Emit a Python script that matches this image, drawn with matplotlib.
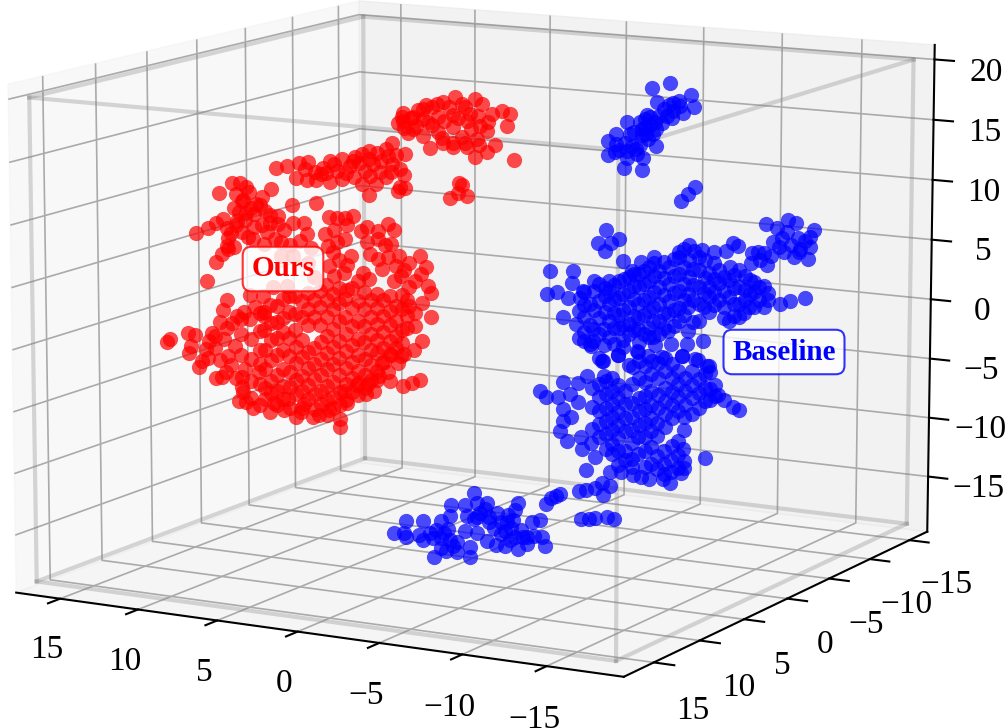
import numpy as np
import matplotlib
matplotlib.use('Agg')
import matplotlib.pyplot as plt
from matplotlib.transforms import ScaledTranslation

plt.rcParams['font.family'] = ['Liberation Serif', 'DejaVu Serif']
plt.rcParams['font.size'] = 24
plt.rcParams['grid.color'] = '#aaaaaa'
plt.rcParams['grid.linewidth'] = 1.2

# depth of each group of points (not readable from the picture, estimated)
red_depth = 6.0
blue_depth = -8.0
floor_depth = 2.0

# (x, z) pairs
red_top_left = [(11.7,11.3),(11.2,11.4),(12.6,10.4),(10.8,11.05),(10.6,10.7),(9.2,11.1),(9.8,10.4),(11.5,10.4),
    (11.1,9.9),(11.6,9.3),(11.3,8.95),(10.8,9.0),(9.9,9.7),(9.6,9.3),(10.3,8.95),(9.3,9.0),(8.8,9.0),(14.1,6.9),
    (13.3,7.45),(12.8,7.9),(12.3,8.3),(12.1,7.6),(12.0,6.8),(12.1,6.1),(11.6,6.1),(12.4,5.4),(12.8,4.7),(13.4,3.0),
    (10.7,7.0),(10.3,7.9),(9.8,8.1),(9.3,8.3),(9.0,7.1),(8.4,7.9),(7.8,8.5),(7.1,8.6),(6.9,7.7),(8.0,6.7),(6.7,6.6),
    (11.0,10.0),(10.2,9.8),(10.9,8.4),(10.5,9.4),(11.5,7.9),(11.8,7.2),(11.1,7.4),(10.4,6.9),(9.5,7.6),(8.8,8.3),
    (9.7,6.6),(8.6,6.9),(7.4,7.1),(12.0,5.9),(11.4,8.2)]
red_rim = [(5.8,7.9),(5.5,9.3),(5.0,9.3),(4.5,9.35),(4.0,9.55),(4.4,8.8),(3.5,8.4),(4.5,7.6),(3.1,7.6),(2.4,8.55),
    (1.8,9.2),(1.4,8.8),(2.4,7.9),(1.6,7.6),(2.9,6.6),(2.4,6.25),(1.8,6.5),(1.3,5.9),(0.5,6.2),(-0.2,6.9),(-0.6,6.0),
    (1.0,5.1),(0.1,4.8),(-0.7,4.5),(-0.9,4.0),(-0.3,3.1),(0.5,2.7),(0.1,2.2),(-0.9,2.0),(0.1,1.15),(-0.3,0.0),
    (0.2,-0.8),(1.0,-1.4),(1.6,-1.4),(2.2,-2.1),(2.4,-3.2),(3.1,-4.0),(3.8,-4.2),(0.85,-3.8),(0.3,-3.5),(-0.2,-3.2),
    (5.2,8.3),(3.1,8.8),(2.0,7.5),(1.1,6.7),(0.8,5.6),(-0.3,5.4),(0.5,4.3),(1.4,4.6),(5.0,7.3),(5.3,6.5),
    (1.8,-2.8),(1.2,-2.0),(2.5,-3.6),(0.8,-1.2),(3.2,-4.8),(2.7,-4.5),(1.7,-3.5)]
red_mid = [(10.6,2.3),(9.8,2.25),(8.6,5.7),(7.8,5.8),(5.6,6.9),(4.9,5.9),(4.1,6.3),(5.5,5.3),(5.2,4.5),(3.7,4.3),
    (3.0,4.55),(8.2,3.3),(9.1,3.15),(6.9,5.35),(6.5,4.3),(4.4,3.5),(4.4,5.5),(4.6,4.9),(3.4,5.0),(2.2,5.5)]
red_left = [(15.9,-2.1),(16.1,-2.4),(14.7,-1.4),(14.2,-1.5),(14.5,-2.5),(14.6,-3.1),(13.1,-1.2),(13.3,-1.9),(14.0,-4.2),
    (13.4,-3.3),(13.8,-3.6),(12.9,-4.9),(12.2,-4.3),(12.1,1.65),(12.4,0.8),(11.0,0.85),(10.3,1.35),(9.7,0.65),
    (11.8,-0.2),(12.1,-0.65),(12.3,-1.6),(11.6,-2.05),(12.1,-2.95),(11.0,-3.9),(10.1,-4.0),(11.1,-5.8),(11.4,-6.6),
    (10.5,-7.05),(10.0,-6.7),(9.1,-6.45),(8.2,-5.95),(7.7,-7.35),(6.6,-7.2),(7.2,-6.2),(5.6,-6.5),(4.9,-7.1),
    (4.9,-7.8),(4.4,-5.7),(4.6,-4.75),(13.5,-2.6),(12.9,-2.4),(12.6,-3.4),(12.9,-1.4),(11.5,0.4),(12.6,-0.2),
    (11.9,-3.7),(11.6,-4.7),(12.5,-4.8),(10.9,-6.6),(9.4,-7.2),(8.5,-6.9),(7.4,-6.9),(6.2,-7.0)]
# core of the red mass, x: list of z
red_core = {10.0: [0.9,-0.6,-2.2,-3.3,-5.0], 9.3: [1.6,0.1,-1.3,-2.9,-4.6,-5.6], 8.5: [2.2,0.7,-0.5,-2.0,-3.5,-4.9,-6.0],
    7.7: [2.6,1.1,-0.2,-1.6,-2.9,-4.3,-5.5], 6.9: [2.9,1.6,0.3,-1.9,-3.2,-4.6,-5.8],
    6.1: [3.2,1.9,0.4,-1.0,-2.4,-3.7,-5.0,-6.1], 5.3: [3.1,1.8,0.2,-1.3,-2.7,-4.1,-5.4,-6.3],
    4.5: [2.8,1.3,-0.1,-1.5,-2.9,-4.2,-5.5], 3.7: [2.7,1.1,-0.4,-1.7,-3.0,-4.0,-5.0],
    2.9: [2.9,1.5,0.1,-1.2,-2.4,-3.6], 2.1: [3.0,1.7,0.4,-0.9,-2.0], 1.3: [2.6,1.4,0.2,-0.8], 0.6: [3.2,1.9,0.9],
    11.2: [0.2,-1.0,-2.8,-4.6,-5.4], 10.6: [0.3,-1.4,-3.0,-4.8,-6.2], 9.7: [1.0,-0.5,-2.1,-3.7,-5.3,-6.2],
    8.9: [1.6,0.3,-1.0,-2.4,-4.1,-5.4,-6.6], 8.1: [2.5,1.2,-0.9,-2.4,-3.7,-5.0,-6.7], 7.3: [2.2,0.9,-1.0,-2.4,-3.9,-5.2,-6.6],
    6.5: [2.4,1.0,-1.5,-2.8,-4.1,-5.3,-6.5], 5.7: [3.7,2.5,1.1,-0.4,-1.8,-3.1,-4.5,-5.7,-6.9],
    4.9: [3.6,2.4,0.9,-0.7,-2.1,-3.5,-4.9,-6.0], 4.1: [3.7,2.1,0.6,-0.9,-2.3,-3.6,-4.8], 3.3: [3.5,2.1,0.7,-0.6,-2.0,-3.3,-4.3],
    2.5: [3.4,2.3,1.0,-0.3,-1.4,-2.8], 1.7: [3.4,2.2,1.0,-0.3,-1.3], 0.9: [3.6,2.4,0.7,-0.3]}
red_band = [(8.85,12.9),(8.2,13.1),(7.4,13.45),(6.8,13.6),(6.4,12.85),(5.9,13.25),(5.45,13.8),(4.7,14.05),(4.2,13.55),
    (5.0,13.05),(3.85,14.35),(3.4,14.65),(2.95,14.95),(2.45,14.8),(1.9,15.25),(1.5,15.75),(1.8,14.65),(2.7,13.95),
    (3.2,13.3),(3.9,12.7),(4.7,12.45),(5.45,12.15),(6.3,12.2),(6.9,12.15),(7.6,12.2),(3.4,12.2),(2.55,12.35),(1.9,13.0),
    (1.5,14.1),(1.0,13.75),(0.8,13.3),(1.0,12.3),(0.7,12.2),(1.15,11.95),(3.0,11.35),(6.35,10.35),(7.9,9.95),
    (7.0,13.0),(6.0,12.7),(5.2,13.6),(4.4,13.0),(3.6,13.9),(3.0,14.3),(2.2,14.2),(2.9,12.9),(2.3,13.3),(1.6,13.4),(4.0,14.0),
    (5.7,12.8),(1.3,14.8),(0.7,15.0)]
red_arc = [(0.8,17.6),(0.35,17.9),(-0.1,18.55),(-0.6,19.0),(-1.0,18.9),(-1.65,19.4),(-2.4,19.85),(-2.85,19.35),(-3.65,19.85),
    (-3.3,18.6),(-4.05,19.5),(-4.65,18.75),(-3.95,17.7),(-3.15,18.0),(-2.25,18.45),(-1.35,18.15),(-0.75,17.65),(0.0,17.3),
    (0.8,17.05),(1.15,17.4),(0.5,16.65),(-0.4,16.55),(-1.35,16.95),(-2.25,17.45),(-2.85,16.75),(-3.75,16.7),(-4.35,17.35),
    (-4.85,16.35),(-5.3,19.1),(-5.75,18.9),(-5.6,17.95),(-6.0,15.3),(-4.35,15.7),(-3.15,15.95),(-2.25,15.85),(-1.65,16.15),
    (-0.85,15.65),(-2.85,12.9),(-2.55,12.2),(-3.15,12.05),(-2.1,11.75),(-2.65,13.05),(-3.65,15.2),
    (0.2,18.0),(0.2,17.0),(0.9,17.9),(-0.4,17.9),(-1.0,17.5),(-1.7,17.9),(-2.6,18.2),(-3.4,17.4),(-3.8,18.5),(-3.0,19.1),
    (-2.0,19.0),(-1.3,19.2),(-0.4,18.7),(-1.6,16.5),(-3.0,16.3),(-3.9,16.2),(-2.3,16.2),(-4.4,18.1),(0.8,18.2)]

blue_top = [(-6.7,18.2),(-7.85,18.7),(-7.05,17.05),(-8.05,17.1),(-8.4,17.3),(-9.15,17.85),(-9.35,16.9),(-8.7,16.35),
    (-7.65,15.95),(-6.3,15.6),(-5.15,15.15),(-6.6,15.1),(-6.1,14.75),(-7.0,14.85),(-5.35,14.2),(-4.45,14.1),(-3.95,13.45),
    (-5.05,13.45),(-4.7,12.85),(-3.95,12.3),(-5.15,12.2),(-6.2,12.35),(-5.0,11.35),(-6.15,11.3),(-5.75,13.0),(-7.0,13.45),
    (-6.5,13.95),(-6.15,14.2),(-7.35,15.35),(-8.05,16.4),(-6.6,15.8),(-6.9,15.4),(-6.4,14.35),
    (-6.3,14.9),(-6.8,14.4),(-7.2,15.9),(-7.5,16.5),(-8.0,15.8),(-8.5,16.9),(-6.0,15.3),(-5.6,14.4),(-5.5,13.2),(-6.0,13.4),
    (-5.2,12.8),(-4.5,13.3),(-4.4,12.6),(-6.4,15.9),(-5.8,12.6),(-7.8,16.9)]
blue_trio = [(-8.6,9.1),(-9.0,9.7),(-9.45,10.3)]
blue_band_edge = [(-3.9,6.05),(-3.35,4.95),(-4.7,5.4),(-4.2,5.05),(-3.8,4.3),(-0.3,2.2),(-0.1,0.2),(-0.75,0.5),(-1.8,2.35),
    (-1.7,1.35),(-1.15,-1.55),(-2.0,-2.1),(-1.45,0.05),(-2.4,0.75),(-3.15,1.7),(-4.1,1.85),(-4.95,3.65),(-5.55,2.9),
    (-6.1,3.65),(-6.9,4.2),(-8.5,4.85),(-9.1,5.5),(-9.95,5.2),(-10.7,5.15),(-11.4,5.25),(-11.85,6.0),(-12.15,5.8),
    (-14.8,1.4),(-15.4,1.7),(-16.35,2.1),(-2.5,-3.4),(-2.95,-3.8),(-3.7,-4.95),(-4.7,-4.25),(-5.95,-3.9),(-6.6,-4.1),
    (-7.45,-4.1),(-8.7,-3.8),(-9.55,-3.95),(-10.3,-4.4),(-5.35,-5.0),
    (-6.0,-3.0),(-7.0,-3.1),(-8.0,-2.9),(-9.0,-2.8),(-10.0,-2.4),(-5.0,-3.6)]
blue_right = [(-13.85,7.85),(-14.55,7.6),(-15.2,8.3),(-15.7,8.1),(-15.2,7.35),(-15.85,6.9),(-16.8,7.7),(-16.6,7.1),(-16.6,6.3),
    (-16.45,5.3),(-15.6,5.3),(-15.0,5.65),(-14.35,6.4),(-14.7,6.0),(-13.75,5.45),(-13.5,4.85),(-13.0,5.35),(-13.0,4.5),
    (-13.95,4.45),(-16.0,6.05),(-15.4,6.3),(-14.9,6.8),(-15.9,5.8),(-16.3,6.7),(-14.2,5.2),(-13.4,5.5)]
blue_band_core = {-2.2: [0.16,-0.96,-3.2], -2.85: [-0.3,-2.0,-3.66], -3.45: [1.46,0.06,-1.34,-2.74,-4.7], -4.1: [1.0,-0.1,-1.5,-2.9],
    -4.7: [1.9,0.5,-0.9,-2.0], -5.35: [2.3,1.2,-0.2,-1.6,-2.45], -5.95: [2.65,1.55,0.15,-1.0,-1.95],
    -6.6: [3.3,2.2,0.8,-0.3,-1.75,-2.55], -7.25: [3.1,1.75,0.35,-1.05,-2.2], -7.85: [3.5,2.1,0.7,-0.45,-1.85],
    -8.5: [4.4,3.0,1.6,0.2,-0.9], -9.1: [4.25,2.85,1.45,0.3,-1.65], -9.75: [4.6,3.5,2.1,0.7,-0.7], -10.4: [3.3,2.2,1.35,0.1],
    -11.0: [3.65,2.55,1.15], -11.65: [4.0,2.9,1.5,-0.45], -12.25: [3.85,2.45,1.05,-0.05], -12.9: [3.1,1.95,0.85],
    -13.5: [2.6,1.5], -14.05: [2.15,1.55],
    -2.5: [0.7,-0.4,-1.4,-2.7], -3.1: [0.9,-0.7,-2.3,-3.3], -3.8: [1.2,0.5,-0.8,-2.2,-3.6], -4.4: [1.5,0.4,-0.8,-2.1,-3.4],
    -5.0: [2.1,0.9,-0.5,-1.7,-3.0], -5.65: [2.6,1.6,0.5,-0.9,-2.1], -6.3: [3.0,1.9,0.5,-0.7,-2.3],
    -6.9: [3.7,2.6,1.3,0.0,-1.1,-2.5], -7.55: [3.9,2.5,1.1,-0.4,-1.6], -8.2: [4.2,2.8,1.4,0.0,-1.4],
    -8.8: [5.1,3.6,2.2,0.9,-0.4], -9.4: [5.0,3.5,2.2,1.0,-0.9], -10.1: [4.4,2.9,1.6,0.5], -10.7: [4.2,2.9,1.8,0.7],
    -11.3: [3.1,2.0,0.6,-0.3], -11.95: [3.4,2.3,1.0,0.0], -12.6: [3.4,2.2,1.4,0.3], -13.2: [3.0,2.1,0.9], -13.8: [2.7,1.0]}
blue_low_edge = [(0.36,-8.1),(-0.04,-8.55),(-0.85,-8.4),(-1.15,-7.1),(-2.15,-7.0),(-2.7,-6.35),(-1.6,-8.05),(-2.15,-8.65),
    (-1.15,-9.35),(-1.65,-10.0),(-1.15,-10.35),(-0.95,-11.25),(-1.45,-12.0),(-2.3,-11.55),(-2.4,-12.55),(-3.0,-7.35),
    (-3.25,-13.1),(-2.65,-14.3),(-4.2,-14.25),(-4.9,-14.15),(-5.65,-14.3),(-6.2,-14.35),(-6.7,-14.45),(-7.55,-14.3),
    (-8.0,-14.55),(-8.7,-13.6),(-8.8,-11.6),(-8.9,-9.95),(-10.2,-12.1),(-11.4,-7.05),(-11.95,-7.55),(-12.3,-7.75),(-11.0,-6.7),
    (-8.7,-3.8),(-9.75,-3.95),(-10.4,-4.4),(-4.7,-4.25),(-5.85,-3.8),(-3.65,-4.95),(-3.8,-6.2)]
blue_low_core = {-3.45: [-6.95,-8.05,-9.2,-10.3,-11.4], -4.3: [-6.25,-7.35,-8.5,-9.6,-10.7,-11.85,-12.7],
    -5.15: [-7.25,-8.35,-9.5,-10.6,-12.3,-13.1], -6.0: [-4.6,-6.0,-7.7,-8.8,-9.95,-11.0,-12.45],
    -6.8: [-4.5,-5.6,-7.0,-8.15,-9.25,-10.35,-11.75,-13.15], -7.65: [-4.1,-5.2,-6.6,-7.75,-8.85,-9.95,-11.95,-13.05,-13.9],
    -8.5: [-5.1,-6.2,-7.3,-8.45,-10.95,-12.1,-13.2], -9.35: [-4.95,-6.1,-7.2,-8.6], -10.2: [-5.1,-6.25,-7.35], -10.8: [-5.9,-6.85],
    -3.0: [-8.9,-10.8,-12.0], -3.9: [-6.6,-7.7,-8.9,-10.0,-11.1,-12.3], -4.7: [-6.8,-7.9,-9.1,-10.2,-11.3,-12.4,-13.6],
    -5.6: [-5.2,-6.6,-8.2,-9.4,-10.5,-11.6,-12.9,-13.6], -6.4: [-5.0,-6.3,-7.5,-8.6,-9.8,-10.9,-12.1,-13.5],
    -7.2: [-4.6,-5.9,-7.3,-8.4,-9.6,-10.7,-12.4,-13.5], -8.1: [-4.6,-5.7,-6.9,-8.0,-9.1,-11.4,-12.6,-13.6],
    -8.9: [-5.6,-6.7,-7.9,-8.9,-12.6,-13.2], -9.8: [-5.6,-6.7,-8.0], -10.5: [-4.9,-6.3,-7.2]}
blue_floor = [(3.9,-17.65),(3.14,-16.5),(3.25,-17.5),(3.14,-17.8),(2.05,-16.35),(2.27,-17.5),(2.05,-17.9),(0.87,-16.15),(1.3,-19.2),
    (1.4,-17.65),(0.87,-17.55),(0.43,-16.7),(0.22,-14.65),(0.33,-15.6),(0.87,-18.4),(0.54,-18.6),(-0.11,-17.7),(-0.11,-18.5),
    (-0.97,-18.8),(-0.97,-18.0),(-0.65,-16.7),(-1.4,-16.7),(-1.25,-13.45),(-0.65,-14.5),(-1.4,-14.25),(-0.76,-15.4),(-2.05,-14.15),
    (-1.6,-15.05),(-1.2,-15.65),(-2.15,-15.25),(-2.7,-14.9),(-2.5,-16.15),(-2.05,-17.3),(-2.6,-17.5),(-3.15,-17.55),(-4.0,-17.6),
    (-4.55,-17.1),(-3.35,-14.9),(-3.8,-14.45),(-4.0,-13.8),(-3.55,-16.0),(-4.2,-16.05),(-4.55,-16.55),(-5.0,-16.35),(-4.85,-15.25),
    (-5.4,-15.0),(-5.5,-16.4),(-5.7,-17.1),(-3.15,-16.3),(-3.8,-16.65),(0.33,-17.65),(1.2,-16.95),
    (0.7,-17.1),(1.6,-17.2),(0.1,-18.1),(-2.2,-15.7),(-2.9,-15.6),(-3.3,-15.5),(-3.7,-15.3),(-2.9,-16.6),(-3.5,-17.0),(-1.4,-15.4),
    (-1.9,-14.7),(-4.3,-16.6)]
blue_floor_right = [(-5.75,-13.6),(-6.05,-13.05),(-6.4,-12.85),(-6.6,-12.7),(-7.8,-12.25),(-8.25,-12.05),(-8.8,-11.85),(-9.2,-11.35),
    (-9.7,-11.55),(-9.3,-12.3),(-7.9,-14.5),(-8.45,-14.4),(-8.8,-14.3),(-9.55,-14.05),(-10.0,-14.2)]

x_ticks = [-15, -10, -5, 0, 5, 10, 15]
y_ticks = [-15, -10, -5, 0, 5, 10, 15]
z_ticks = [-15, -10, -5, 0, 5, 10, 15, 20]


def unpack(pairs, columns=None):
    pts = list(pairs)
    if columns:
        for x, zs in columns.items():
            pts += [(x, z) for z in zs]
    return np.array(pts)


red = unpack(red_top_left + red_rim + red_mid + red_left + red_band + red_arc, red_core)
blue = unpack(blue_top + blue_trio + blue_band_edge + blue_right + blue_low_edge, blue_band_core)
blue_low = unpack([], blue_low_core)
floor = unpack(blue_floor + blue_floor_right)

fig = plt.figure(figsize=(10.05, 7.28), dpi=100)
ax = fig.add_axes([-0.168, -0.173, 1.267, 1.442], projection='3d')
ax.view_init(elev=11, azim=119)

# wireframe box behind the points
xl, xh = -18.5, 17.2
yl, yh = -16.7, 17.2
zl, zh = -19.0, 20.0
for a, b in [((xl,yl,zl),(xh,yl,zl)),((xl,yh,zl),(xh,yh,zl)),((xl,yl,zh),(xh,yl,zh)),((xl,yh,zh),(xh,yh,zh)),
             ((xl,yl,zl),(xl,yh,zl)),((xh,yl,zl),(xh,yh,zl)),((xl,yl,zh),(xl,yh,zh)),((xh,yl,zh),(xh,yh,zh)),
             ((xl,yl,zl),(xl,yl,zh)),((xh,yl,zl),(xh,yl,zh)),((xl,yh,zl),(xl,yh,zh)),((xh,yh,zl),(xh,yh,zh))]:
    ax.plot([a[0],b[0]],[a[1],b[1]],[a[2],b[2]],color='gray',alpha=0.3,lw=3)

ax.scatter(red[:, 0], np.full(len(red), red_depth), red[:, 1], c='red', s=120, alpha=0.7, linewidths=0, depthshade=False)
ax.scatter(blue[:, 0], np.full(len(blue), blue_depth), blue[:, 1], c='blue', s=120, alpha=0.7, linewidths=0, depthshade=False)
ax.scatter(blue_low[:, 0], np.full(len(blue_low), blue_depth), blue_low[:, 1], c='blue', s=120, alpha=0.7, linewidths=0, depthshade=False)
ax.scatter(floor[:, 0], np.full(len(floor), floor_depth), floor[:, 1], c='blue', s=120, alpha=0.7, linewidths=0, depthshade=False)

ax.set_xlim(-19.5, 17.85)
ax.set_ylim(-17.3, 18.2)
ax.set_zlim(-19.7, 21.2)
ax.set_xticks(x_ticks)
ax.set_yticks(y_ticks)
ax.set_zticks(z_ticks)
ax.tick_params(axis='x', pad=14)
ax.tick_params(axis='y', pad=13)
ax.tick_params(axis='z', pad=15)
for axis in (ax.xaxis, ax.yaxis, ax.zaxis):
    axis._axinfo['tick']['inward_factor'] = 0.4
    axis._axinfo['tick']['outward_factor'] = 0.0
    axis._axinfo['tick']['linewidth'] = {True: 1.5, False: 1.0}
    axis.line.set_linewidth(1.5)


# Axis3D resets label transforms in get_major_ticks, so nudge them there
def nudge_labels(axis, dx):
    orig = axis.get_major_ticks

    def shifted(numticks=None):
        ticks = orig(numticks)
        for t in ticks:
            t.label1.set_transform(ax.transData + ScaledTranslation(dx, 0, fig.dpi_scale_trans))
        return ticks
    axis.get_major_ticks = shifted


nudge_labels(ax.xaxis, 0.07)
nudge_labels(ax.yaxis, 0.05)

fig.text(283/1005, 1-269/728, 'Ours', color='red', fontsize=21, fontweight='bold', ha='center', va='center',
         bbox=dict(boxstyle='round,pad=0.3', fc=(1,1,1,0.8), ec=(1,0,0,0.8), lw=1.5))
fig.text(784/1005, 1-352/728, 'Baseline', color='blue', fontsize=21, fontweight='bold', ha='center', va='center',
         bbox=dict(boxstyle='round,pad=0.3', fc=(1,1,1,0.8), ec=(0,0,1,0.8), lw=1.5))
fig.savefig('out.png', dpi=100)
